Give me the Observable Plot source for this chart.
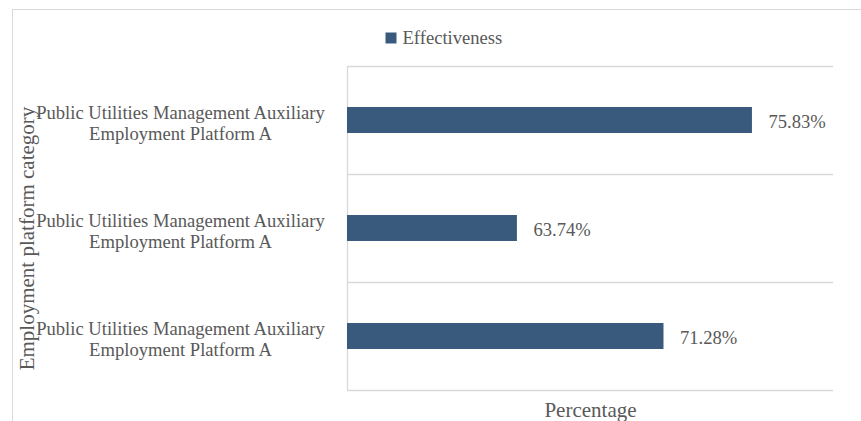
<!DOCTYPE html>
<html>
<head>
<meta charset="utf-8">
<script src="https://cdn.jsdelivr.net/npm/d3@7"></script>
<script src="https://cdn.jsdelivr.net/npm/@observablehq/plot@0.6"></script>
<style>
  html, body { margin: 0; padding: 0; background: #fff; }
  #wrap { position: relative; width: 861px; height: 421px; overflow: hidden; }
  #border { position: absolute; left: 12px; top: 9px; width: 860px; height: 420px;
            border-top: 1px solid #d9d9d9; border-left: 1px solid #d9d9d9; pointer-events: none; }
</style>
</head>
<body>
<div id="wrap"><div id="border"></div></div>
<script>
const categories = [
  "Public Utilities Management Auxiliary\nEmployment Platform A",
  "Public Utilities Management Auxiliary\nEmployment Platform A",
  "Public Utilities Management Auxiliary\nEmployment Platform A"
];
const values = [75.83, 63.74, 71.28];
const seriesName = "Effectiveness";
const xTitle = "Percentage";
const yTitle = "Employment platform category";
const xDomain = [55, 80];

const rows = categories.map((c, i) => ({id: i, category: c, value: values[i]}));
const ids = rows.map(d => d.id);

const W = 861, H = 421;
const mL = 347, mR = 28, mT = 66, mB = 31;
const half = (H - mT - mB) / ids.length / 2;
const barColor = "#395a7c";
const textColor = "#595959";
const gridColor = "#d9d9d9";
const font = "'Liberation Serif', 'Times New Roman', serif";

const chart = Plot.plot({
  width: W,
  height: H,
  marginLeft: mL,
  marginRight: mR,
  marginTop: mT,
  marginBottom: mB,
  style: {fontFamily: font, fontSize: "18.6px", color: textColor, background: "transparent", overflow: "visible"},
  x: {domain: xDomain, axis: null},
  y: {domain: ids, axis: null, padding: 0},
  marks: [
    Plot.ruleY(ids, {y: d => d, dy: -half, stroke: gridColor, strokeWidth: 1.3}),
    Plot.ruleY([ids[ids.length - 1]], {y: d => d, dy: half, stroke: gridColor, strokeWidth: 1.3}),
    Plot.ruleX([xDomain[0]], {stroke: gridColor, strokeWidth: 1.3}),
    Plot.barX(rows, {x1: xDomain[0], x2: "value", y: "id", fill: barColor, insetTop: 41, insetBottom: 41}),
    Plot.text(rows, {x: "value", y: "id", text: d => d.value.toFixed(2) + "%", dx: 16, dy: 2, textAnchor: "start", fill: textColor, fontSize: 18.6}),
    Plot.axisY({label: null, tickSize: 0, tickPadding: 167, textAnchor: "middle", tickFormat: i => categories[i], lineHeight: 1.13, dy: 2, fill: textColor, fontSize: 18.6}),
    Plot.text([yTitle], {frameAnchor: "left", dx: 27 - mL, dy: 10, rotate: -90, textAnchor: "middle", lineAnchor: "middle", fontSize: 21, fill: textColor}),
    Plot.text([xTitle], {frameAnchor: "bottom", dy: 20, textAnchor: "middle", lineAnchor: "middle", fontSize: 21, fill: textColor}),
    Plot.dot([seriesName], {frameAnchor: "top-left", dx: 43.5, dy: -28.5, symbol: "square", r: 6.2, fill: barColor, stroke: null}),
    Plot.text([seriesName], {frameAnchor: "top-left", dx: 55, dy: -28, textAnchor: "start", lineAnchor: "middle", fontSize: 18.6, fill: textColor})
  ]
});
chart.style.position = "absolute";
chart.style.left = "0";
chart.style.top = "0";
document.getElementById("wrap").appendChild(chart);
</script>
</body>
</html>
